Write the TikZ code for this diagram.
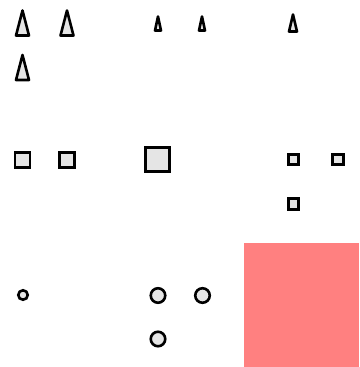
\documentclass[tikz,border=0pt]{standalone}
\usepackage{xcolor}
\usetikzlibrary{positioning}
\definecolor{ShapeFill}{HTML}{E5E5E5}
\definecolor{BlockRed} {HTML}{FF8080}

\tikzset{
  shapebox/.style={draw=black,fill=ShapeFill,line width=2.6pt},
  sqbox/.style={shapebox,rectangle,inner sep=0pt,minimum size=#1},
  dotbox/.style={shapebox,circle,inner sep=0pt,minimum size=#1}
}
% triangle: apex x, bottom y, half width, height
\newcommand{\spike}[4]{%
  \draw[shapebox,line join=round] (#1-#3,#2) -- (#1,#2-#4) -- (#1+#3,#2) -- cycle;}

\begin{document}
\begin{tikzpicture}[x=1pt,y=-1pt]
    \useasboundingbox (0,0) rectangle (359,367);
    % triangles
    \spike{22.5}{35.5}{6.5}{25}
    \spike{67}{35.5}{6.5}{25}
    \spike{22.5}{80}{6.5}{25}
    \spike{158}{30.5}{3}{14}
    \spike{202}{30.5}{3}{14}
    \spike{293}{31.5}{4}{17}
    % squares
    \node[sqbox=15pt] (sqa) at (22.5,160) {};
    \node[sqbox=15pt] (sqb) at (67,160) {};
    \node[sqbox=24pt] (sqbig) at (157.5,159.5) {};
    \node[sqbox=10.5pt] (sqc) at (293.5,159.5) {};
    \node[sqbox=10.5pt] (sqd) at (338,159.5) {};
    \node[sqbox=10.5pt] (sqe) at (293.5,204) {};
    % circles
    \node[dotbox=9.5pt] (dota) at (23,295) {};
    \node[dotbox=14.5pt] (dotb) at (158,295.5) {};
    \node[dotbox=14.5pt] (dotc) at (202.5,295.5) {};
    \node[dotbox=14.5pt] (dotd) at (158,339) {};
    % red block
    \fill[BlockRed] (244,243) rectangle (359,367);
  \end{tikzpicture}
\end{document}
